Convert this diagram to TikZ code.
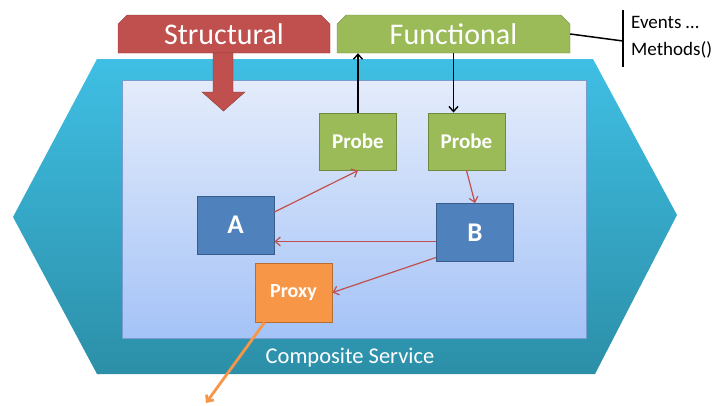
\documentclass[tikz,border=0pt]{standalone}
\usepackage{fontspec}
\setmainfont{Carlito}
\usetikzlibrary{shapes.misc,arrows.meta}

\definecolor{hextop}{HTML}{3FBFE4}
\definecolor{hexbot}{HTML}{2C8FA8}
\definecolor{intop}{HTML}{E4ECFB}
\definecolor{inbot}{HTML}{A5C3F7}
\definecolor{inline}{HTML}{7A9BD0}
\definecolor{redfill}{HTML}{C0504D}
\definecolor{redline}{HTML}{8C3836}
\definecolor{greenfill}{HTML}{9BBB59}
\definecolor{greenline}{HTML}{71893F}
\definecolor{bluefill}{HTML}{4F81BD}
\definecolor{blueline}{HTML}{385D8A}
\definecolor{orangefill}{HTML}{F79646}
\definecolor{orangeline}{HTML}{B66D31}

\begin{document}
\begin{tikzpicture}[x=1pt,y=-1pt]
\useasboundingbox (0,0) rectangle (713,405);
\tikzset{>={Straight Barb[length=5pt,width=9pt]},
  tab/.style={chamfered rectangle, chamfered rectangle corners={north west,north east},
    chamfered rectangle xsep=6pt, minimum height=38pt, inner sep=0pt, text=white, font=\fontsize{30}{32}\selectfont},
  comp/.style={draw=blueline, fill=bluefill, line width=1pt, minimum width=77pt, minimum height=58pt, text=white, font=\bfseries\fontsize{27}{28}\selectfont},
  probe/.style={draw=greenline, fill=greenfill, line width=1pt, minimum width=77pt, minimum height=57pt, text=white, font=\bfseries\fontsize{21}{22}\selectfont},
  link/.style={redfill, line width=1.2pt, ->}}
% service body
\shade[top color=hextop, bottom color=hexbot] (97,59) -- (593,59) -- (677,215) -- (595,374) -- (97,374) -- (13,217) -- cycle;
\node[draw=inline, line width=0.8pt, top color=intop, bottom color=inbot, minimum width=464pt, minimum height=258pt, inner sep=0pt] (inner) at (354,209) {};
\node[text=white, font=\fontsize{22.5}{24}\selectfont] (name) at (350,358) {Composite Service};
% tabs on top
\node[tab, draw=redline, fill=redfill, minimum width=212pt] (struct) at (224,34) {Structural};
\node[tab, draw=greenline, fill=greenfill, minimum width=233pt] (func) at (453.5,34) {Functional};
\fill[redfill, draw=redline] (213,53) -- (213,92) -- (202,92) -- (223.5,111) -- (245,92) -- (233,92) -- (233,53) -- cycle;
% components
\node[probe] (probeL) at (358,141.5) {Probe};
\node[probe] (probeR) at (466.5,141.5) {Probe};
\node[comp] (A) at (235.5,225) {A};
\node[comp] (B) at (475,232.5) {B};
\node[draw=orangeline, fill=orangefill, line width=1pt, minimum width=77pt, minimum height=59pt, text=white, font=\bfseries\fontsize{20}{22}\selectfont] (proxy) at (293.5,292.5) {Proxy};
\coordinate (out) at (206,403);
% links
\draw[->, line width=1.4pt] (probeL.north) -- (probeL.north |- func.south);
\draw[->, line width=1.4pt] (func.south) -- (func.south |- probeR.north);
\draw[link] ([yshift=13pt]A.east) -- (probeL.south);
\draw[link] (probeR.south) -- (B.north);
\draw[link] ([yshift=-9pt]B.west) -- ([yshift=-9pt]B.west -| A.east);
\draw[link] ([yshift=-25pt]B.west) -- (proxy.east);
\draw[orangefill, line width=2.8pt, ->] ([xshift=-29pt]proxy.south) -- (out);
% interface
\coordinate (top) at (623,10);
\coordinate (bot) at (623,67);
\draw[line width=1.5pt] (top) -- (bot);
\draw[line width=1.5pt] (func.east) -- (623,41);
\node[anchor=west, font=\fontsize{19}{20}\selectfont, inner sep=0pt] (ev) at (631,22) {Events …};
\node[anchor=west, font=\fontsize{19}{20}\selectfont, inner sep=0pt] (meth) at (631,50) {Methods()};
\end{tikzpicture}
\end{document}
